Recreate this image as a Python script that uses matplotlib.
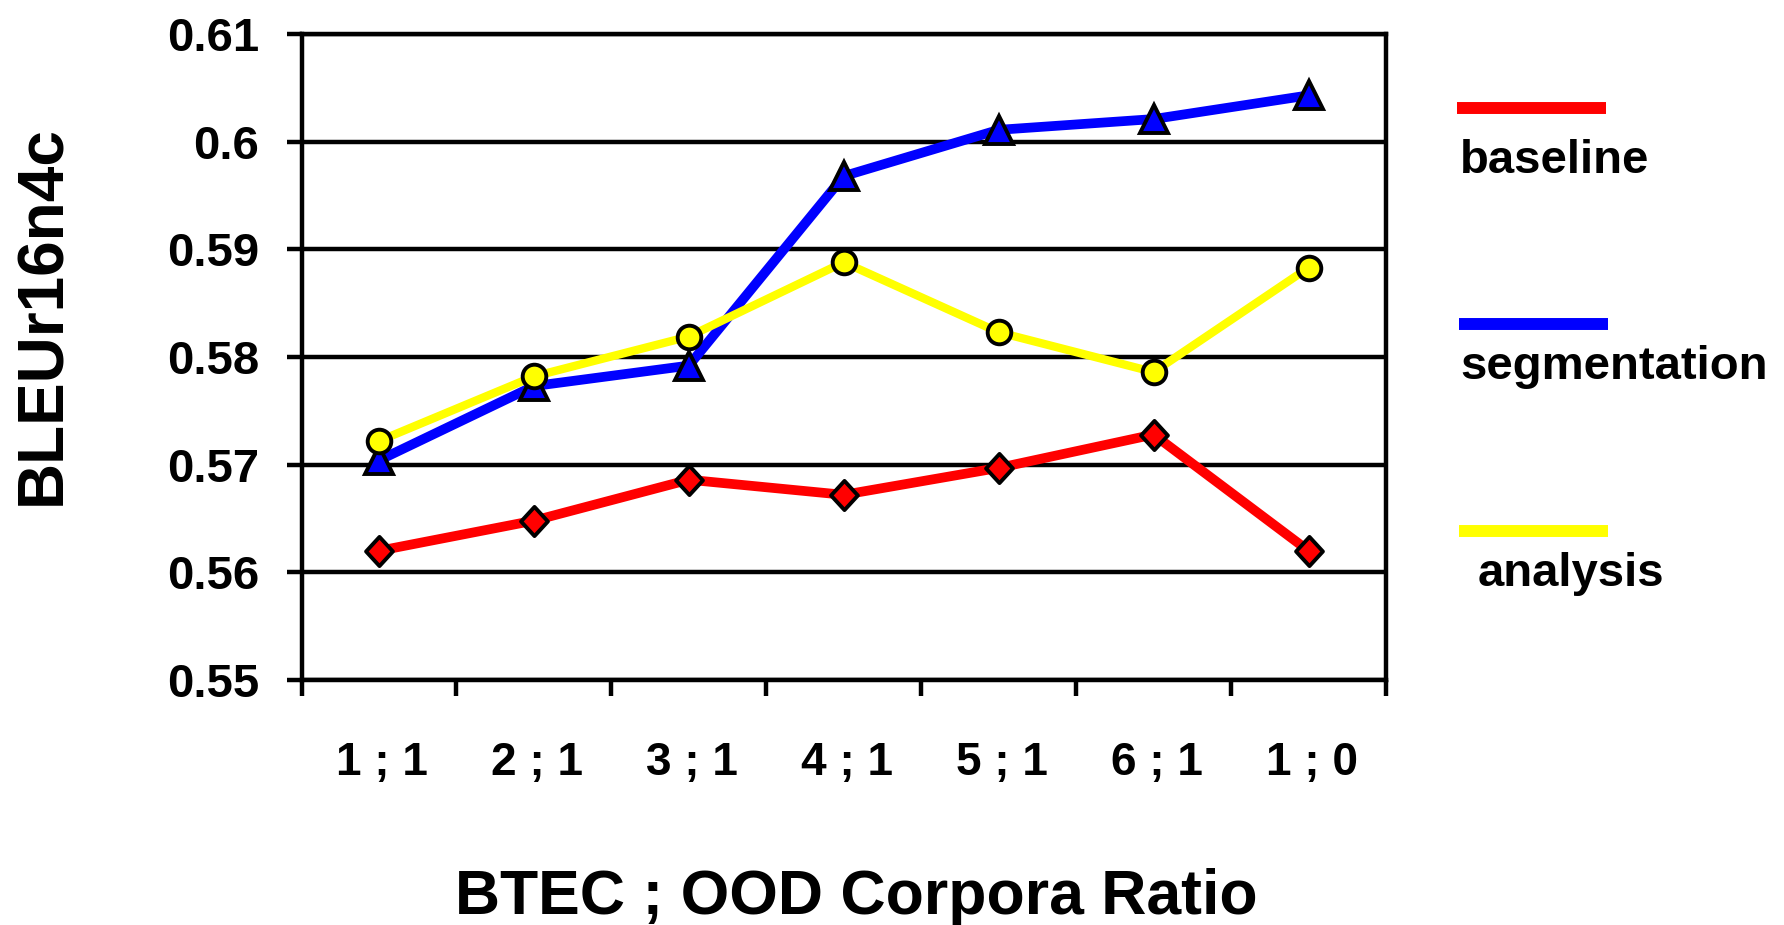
import numpy as np
import matplotlib
matplotlib.use("Agg")
import matplotlib.pyplot as plt
from matplotlib import font_manager
from matplotlib.lines import Line2D
from matplotlib.path import Path

# ---- data -------------------------------------------------------------
ratios = ["1 ; 1", "2 ; 1", "3 ; 1", "4 ; 1", "5 ; 1", "6 ; 1", "1 ; 0"]
baseline = [0.5620, 0.5648, 0.5686, 0.5672, 0.5697, 0.5728, 0.5620]
segmentation = [0.5704, 0.5773, 0.5792, 0.5968, 0.6011, 0.6021, 0.6043]
analysis = [0.5722, 0.5782, 0.5819, 0.5888, 0.5823, 0.5786, 0.5883]
series_names = ["baseline", "segmentation", "analysis"]
y_ticks = [0.55, 0.56, 0.57, 0.58, 0.59, 0.60, 0.61]
y_tick_labels = ["0.55", "0.56", "0.57", "0.58", "0.59", "0.6", "0.61"]
x_title = "BTEC ; OOD Corpora Ratio"
y_title = "BLEUr16n4c"

# ---- fonts ------------------------------------------------------------
available = {f.name for f in font_manager.fontManager.ttflist}
SANS = "Liberation Sans" if "Liberation Sans" in available else "DejaVu Sans"
plt.rcParams["font.family"] = [SANS, "DejaVu Sans"]
plt.rcParams["font.weight"] = "bold"

W, H = 1784, 925
fig = plt.figure(figsize=(W / 100, H / 100), dpi=100)
fig.patch.set_facecolor("white")


def fx(px):
    return px / W


def fy(py):
    return 1 - py / H


left, right, top, bottom = 301.5, 1386, 34, 680
ax = fig.add_axes([fx(left), fy(bottom), (right - left) / W, (bottom - top) / H])

# slightly tall diamond marker
diamond = Path([(0, 1), (0.92, 0), (0, -1), (-0.92, 0), (0, 1)],
               [Path.MOVETO, Path.LINETO, Path.LINETO, Path.LINETO, Path.CLOSEPOLY])

x = np.arange(1, len(ratios) + 1)
styles = [
    (baseline, "#ff0000", diamond, 21, 7.0),
    (segmentation, "#0000ff", "^", 20, 7.0),
    (analysis, "#ffff00", "o", 17, 6.0),
]
for (vals, col, mk, ms, lw), name in zip(styles, series_names):
    ax.plot(x, vals, color=col, lw=lw, marker=mk, markersize=ms,
            markerfacecolor=col, markeredgecolor="black", markeredgewidth=2.8,
            solid_joinstyle="round", label=name, zorder=3)

ax.set_xlim(0.5, len(ratios) + 0.5)
ax.set_ylim(y_ticks[0], y_ticks[-1])

# axes frame, grid and ticks
frame_w = 3.2
for sp in ax.spines.values():
    sp.set_linewidth(frame_w)
    sp.set_color("black")
ax.set_axisbelow(True)
ax.yaxis.grid(True, color="black", lw=frame_w)

ax.set_yticks(y_ticks, labels=y_tick_labels)
ax.tick_params(axis="y", direction="out", length=11, width=frame_w, pad=19.5,
               labelsize=34)
for t in ax.get_yticklabels():
    t.set_fontweight("bold")

ax.set_xticks(np.arange(0.5, len(ratios) + 1, 1))
ax.tick_params(axis="x", which="major", direction="out", length=11.5,
               width=frame_w, labelbottom=False)
ax.set_xticks(x + 0.02, labels=ratios, minor=True)
ax.tick_params(axis="x", which="minor", length=0, pad=44, labelsize=33)
for t in ax.get_xticklabels(minor=True):
    t.set_fontweight("bold")

# axis titles
fig.text(fx(856), fy(913.6), x_title, ha="center", va="baseline",
         fontsize=45, fontweight="bold")
fig.text(fx(43), fy(315), y_title, ha="center", va="center", rotation=90,
         fontsize=46, fontweight="bold")

# legend: coloured bar with the series name underneath
legend_rows = [
    ("#ff0000", 108.3, 1457, 1606, 1460, 172.7),
    ("#0000ff", 323.5, 1459, 1608, 1460, 379),
    ("#ffff00", 531, 1459, 1608, 1478, 586),
]
for (col, ly, x0, x1, tx, ty), name in zip(legend_rows, series_names):
    fig.add_artist(Line2D([fx(x0), fx(x1)], [fy(ly), fy(ly)],
                          transform=fig.transFigure, color=col, lw=8.6,
                          solid_capstyle="butt"))
    fig.text(fx(tx), fy(ty), name, ha="left", va="baseline",
             fontsize=34, fontweight="bold")

fig.savefig("out.png", dpi=100, facecolor="white")
